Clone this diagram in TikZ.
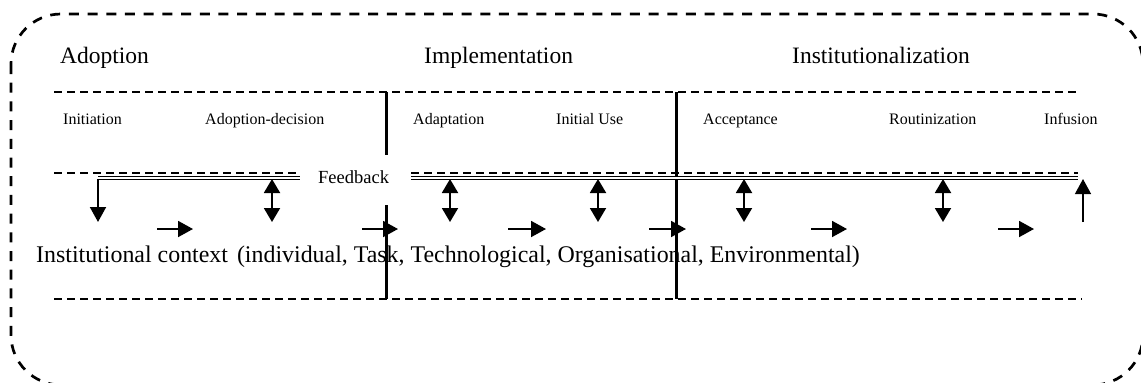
\documentclass[tikz,border=0pt]{standalone}
\usepackage{fontspec}
\setmainfont{Liberation Serif}
\usetikzlibrary{arrows.meta}
\begin{document}
\begin{tikzpicture}[x=1pt,y=-1pt,
  frame/.style={line width=2.7pt, dash pattern=on 10pt off 8.7pt, rounded corners=50pt},
  guide/.style={line width=1.8pt, dash pattern=on 8pt off 5pt},
  divider/.style={line width=3pt},
  fbline/.style={double, line width=1pt, double distance=1.2pt},
  arr/.style={line width=1.9pt, -{Triangle[length=15pt,width=16pt]}},
  darr/.style={line width=1.9pt, {Triangle[length=14pt,width=16pt]}-{Triangle[length=14pt,width=16pt]}},
  big/.style={font=\fontsize{23.5}{28}\selectfont, inner sep=0pt, anchor=base west},
  ctx/.style={font=\fontsize{23.9}{28}\selectfont, inner sep=0pt, anchor=base west},
  small/.style={font=\fontsize{16}{19}\selectfont, inner sep=0pt, anchor=base west},
  fbtext/.style={font=\fontsize{18.5}{22}\selectfont, inner sep=0pt, anchor=base west},
]
\useasboundingbox (0,0) rectangle (1141,383);
% outer frame
\draw[frame] (11,14) rectangle (1143,385);
% guide lines
\draw[guide] (54,92) -- (1078,92);
\draw[guide] (54,173) -- (300,173);
\draw[guide] (411,173) -- (1078,173);
\draw[guide] (54,299) -- (1082,299);
% dividers
\draw[divider] (386,92) -- (386,155);
\draw[divider] (386,205) -- (386,299);
\draw[divider] (676,92) -- (676,299);
% phase titles
\node[big] (adoption) at (60,63) {Adoption};
\node[big] (implementation) at (424,63) {Implementation};
\node[big] (institutionalization) at (792,63) {Institutionalization};
% stages
\node[small] (initiation) at (63,124) {Initiation};
\node[small] (decision) at (205,124) {Adoption-decision};
\node[small] (adaptation) at (413,124) {Adaptation};
\node[small] (initialuse) at (556,124) {Initial Use};
\node[small] (acceptance) at (703,124) {Acceptance};
\node[small] (routinization) at (889,124) {Routinization};
\node[small] (infusion) at (1044,124) {Infusion};
% feedback
\node[fbtext] (feedback) at (318,183) {Feedback};
\coordinate (fbL) at (98,178);
\coordinate (fbLe) at (300,178);
\coordinate (fbRs) at (411,178);
\coordinate (fbR) at (1078,178);
\draw[fbline] (fbL) -- (fbLe);
\draw[fbline] (fbRs) -- (fbR);
% context
\node[ctx] (context) at (36,262) {Institutional context\hspace{3pt} (individual, Task, Technological, Organisational, Environmental)};
% down arrow from feedback
\coordinate (d1) at (98,222);
\draw[arr] ([yshift=-1pt]fbL) -- (d1);
% double arrows
\foreach \x [count=\i] in {272,450,598,744,943}{
  \coordinate (dt\i) at (\x,179);
  \coordinate (db\i) at (\x,222);
  \draw[darr] (dt\i) -- (db\i);
}
% right arrows
\foreach \a/\b [count=\i] in {157/193,362/398,508/546,649/686,811/847,998/1034}{
  \coordinate (rs\i) at (\a,229);
  \coordinate (re\i) at (\b,229);
  \draw[arr] (rs\i) -- (re\i);
}
% up arrow
\coordinate (u1) at (1083,222);
\coordinate (u2) at (1083,179);
\draw[line width=1.2pt, -{Triangle[length=15pt,width=16pt]}] (u1) -- (u2);
\end{tikzpicture}
\end{document}
